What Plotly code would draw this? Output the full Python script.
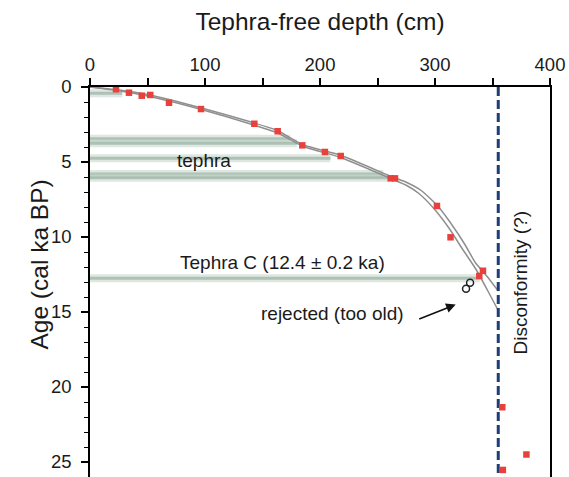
import plotly.graph_objects as go

# ---- data ----
# radiocarbon ages (red squares): tephra-free depth (cm), age (cal ka BP)
date_depth = [22.6, 33.9, 45.0, 52.4, 68.7, 96.5, 142.9, 163.2, 184.6, 204.3,
              218.0, 261.5, 265.2, 301.7, 313.5, 341.7, 338.5, 358.5, 379.5, 359.0]
date_age = [0.15, 0.38, 0.58, 0.53, 1.05, 1.47, 2.45, 2.95, 3.89, 4.33,
            4.60, 6.09, 6.09, 7.93, 10.02, 12.25, 12.60, 21.35, 24.50, 25.53]

# rejected ages (open circles)
rej_depth = [330.5, 327.0]
rej_age = [13.05, 13.45]

# age-depth model envelope (two gray curves)
modelA_depth = [0, 25, 50, 97, 143, 163, 185, 218, 263, 275, 288, 302, 313, 326, 335, 345, 355]
modelA_age = [0, 0.2, 0.5, 1.4, 2.4, 2.9, 3.85, 4.55, 6.0, 6.35, 6.9, 7.9, 9.0, 10.5, 11.7, 12.6, 13.6]
modelB_depth = [0, 25, 50, 97, 143, 163, 185, 218, 263, 275, 286, 299, 313, 323, 336, 346, 355]
modelB_age = [0, 0.25, 0.6, 1.5, 2.55, 3.05, 3.95, 4.7, 6.15, 6.55, 7.1, 8.1, 9.5, 10.7, 12.2, 13.6, 14.9]

# tephra layers: age and the depth to which the band is drawn
tephra_age = [0.42, 3.45, 3.75, 4.75, 5.80, 6.05, 12.75]
tephra_end = [28, 174, 180, 209, 255, 260, 339]

disconformity_depth = 355
age_max = 26

FONT = "Liberation Sans, Arial, Helvetica, sans-serif"
TXT = "#1a1a1a"

fig = go.Figure()

# tephra bands (soft outer + darker core)
for a, e in zip(tephra_age, tephra_end):
    fig.add_trace(go.Scatter(x=[0, e], y=[a, a], mode="lines",
                             line=dict(color="rgba(190,208,196,0.5)", width=8),
                             hoverinfo="skip", showlegend=False))
    fig.add_trace(go.Scatter(x=[0, e], y=[a, a], mode="lines",
                             line=dict(color="rgba(152,178,162,0.7)", width=3),
                             hoverinfo="skip", showlegend=False))

# model curves
for xs, ys in ((modelA_depth, modelA_age), (modelB_depth, modelB_age)):
    fig.add_trace(go.Scatter(x=xs, y=ys, mode="lines",
                             line=dict(color="#8f8f8f", width=1.5, shape="spline", smoothing=0.5),
                             hoverinfo="skip", showlegend=False))

# disconformity
fig.add_trace(go.Scatter(x=[disconformity_depth, disconformity_depth], y=[0, age_max],
                         mode="lines", line=dict(color="#1c3f78", width=3, dash="9px,4px"),
                         showlegend=False))

# dates
fig.add_trace(go.Scatter(x=date_depth, y=date_age, mode="markers",
                         marker=dict(symbol="square", size=6.5, color="#e8413c"),
                         showlegend=False))
fig.add_trace(go.Scatter(x=rej_depth, y=rej_age, mode="markers",
                         marker=dict(symbol="circle-open", size=7, color="#222222",
                                     line=dict(width=1.5)),
                         showlegend=False))

fig.update_layout(
    width=569, height=477,
    margin=dict(l=90, r=19, t=87, b=0),
    paper_bgcolor="white", plot_bgcolor="white",
    font=dict(family=FONT, color=TXT, size=18.5),
    xaxis=dict(
        side="top", range=[0, 400], dtick=100, tick0=0,
        showline=True, linecolor="black", linewidth=1.5, mirror=False,
        ticks="outside", ticklen=7, tickwidth=1.5, tickcolor="black",
        minor=dict(dtick=50, ticks="outside", ticklen=7, tickwidth=1.5, tickcolor="black"),
        showgrid=False, zeroline=False, automargin=False,
        tickfont=dict(size=18.5, family=FONT, color=TXT),
        title=dict(text="Tephra-free depth (cm)", font=dict(size=24.5, family=FONT, color=TXT), standoff=16),
    ),
    yaxis=dict(
        range=[age_max, 0], dtick=5, tick0=0,
        showline=True, linecolor="black", linewidth=1.5, mirror=True,
        ticks="outside", ticklen=7, tickwidth=1.5, tickcolor="black",
        ticklabelstandoff=6,
        minor=dict(dtick=1, ticks="outside", ticklen=4.5, tickwidth=1.2, tickcolor="black"),
        showgrid=False, zeroline=False, automargin=False,
        tickfont=dict(size=18.5, family=FONT, color=TXT),
    ),
    annotations=[
        dict(text="Age (cal ka BP)", xref="paper", yref="paper", x=-0.1435, y=0.546,
             textangle=-90, showarrow=False, font=dict(size=24.5, family=FONT, color=TXT)),
        dict(text="tephra", x=99, y=4.9, showarrow=False, font=dict(size=19)),
        dict(text="Tephra C (12.4 ± 0.2 ka)", x=167, y=11.67, showarrow=False, font=dict(size=19)),
        dict(text="rejected (too old)", x=211, y=15.13, showarrow=False, font=dict(size=19)),
        dict(text="Disconformity (?)", x=374, y=13.03, textangle=-90, showarrow=False, font=dict(size=19)),
        dict(text="", x=318, y=14.5, ax=285, ay=15.5, axref="x", ayref="y",
             showarrow=True, arrowhead=2, arrowsize=1.2, arrowwidth=1.6, arrowcolor="#111111"),
    ],
)

fig.write_html("out.html")
